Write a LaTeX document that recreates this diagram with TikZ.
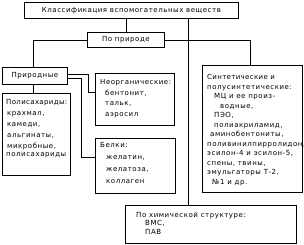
\documentclass[tikz,border=0pt]{standalone}
\usepackage{fontspec}
\setmainfont{DejaVu Sans}[LetterSpace=8]
\begin{document}
\begin{tikzpicture}[x=1pt,y=-1pt,
  bx/.style={draw=black, line width=0.8pt, inner sep=0pt, anchor=north west},
  ln/.style={draw=black, line width=0.8pt},
  txt/.style={anchor=north west, inner sep=0pt, align=left},
  fs/.style={font=\fontsize{7}{#1}\selectfont}]
\useasboundingbox (0,0) rectangle (304,244);
% boxes
\node[bx, minimum width=214pt, minimum height=16pt, fs=9] (top) at (24,2) {Классификация вспомогательных веществ};
\node[bx, minimum width=77pt, minimum height=15pt, fs=9] (nat) at (87,32) {По природе};
\node[bx, minimum width=65pt, minimum height=17pt, fs=9] (prir) at (2,67) {Природные};
\node[bx, minimum width=68pt, minimum height=82pt] (poly) at (2,93) {};
\node[bx, minimum width=79pt, minimum height=52pt] (neorg) at (95,73) {};
\node[bx, minimum width=80pt, minimum height=55pt] (belki) at (95,138) {};
\node[bx, minimum width=100pt, minimum height=127pt] (synth) at (202,65) {};
\node[bx, minimum width=171pt, minimum height=38pt] (chem) at (125,205) {};
% texts
\node[txt, fs=11] (tpoly) at (6,99) {\addfontfeature{LetterSpace=5}Полисахариды:\\ \hspace*{1pt}крахмал,\\ \hspace*{1pt}камеди,\\ \hspace*{1pt}альгинаты,\\ \hspace*{1pt}микробные,\\[-3pt] полисахариды};
\node[txt, fs=10.5] (tneorg) at (100,79.5) {Неорганические:\\ \hspace*{5pt}бентонит,\\ \hspace*{5pt}тальк,\\ \hspace*{5pt}аэросил};
\node[txt, fs=12] (tbelki) at (100,142.5) {Белки:\\ \hspace*{6pt}желатин,\\ \hspace*{6pt}желатоза,\\ \hspace*{6pt}коллаген};
\node[txt, fs=9.5] (tsynth) at (207,74.5) {\addfontfeature{LetterSpace=5}Синтетические и\\ полусинтетические:\\ \hspace*{7pt}МЦ и ее произ-\\ \hspace*{13pt}водные,\\ \hspace*{7pt}ПЭО,\\ \hspace*{7pt}полиакриламид,\\ \hspace*{3pt}аминобентониты,\\ поливинилпирролидон,\\ эсилон-4 и эсилон-5,\\ спены, твины,\\ эмульгаторы Т-2,\\ \hspace*{5pt}№1 и др.};
\node[txt, fs=8.5] (tchem) at (136,211.5) {По химической структуре:\\ \hspace*{9pt}ВМС,\\ \hspace*{9pt}ПАВ};
% connectors
\coordinate (vA) at (188,0);
\coordinate (lx) at (33,0);
\coordinate (rx) at (250,0);
\coordinate (n0) at (0,74);
\coordinate (n1) at (88,92);
\coordinate (b0) at (0,78);
\coordinate (b1) at (81,157);
\draw[ln] (top.south -| vA) -- (chem.north -| vA);
\draw[ln] (top.south -| nat.north) -- (nat.north);
\draw[ln] (nat.west) -| (prir.north -| lx);
\draw[ln] (nat.east) -| (synth.north -| rx);
\draw[ln] (prir.south -| lx) -- (poly.north -| lx);
\draw[ln] (prir.east |- n0) -| (n1) -- (neorg.west |- n1);
\draw[ln] (prir.east |- b0) -| (b1) -- (belki.west |- b1);
\end{tikzpicture}
\end{document}
